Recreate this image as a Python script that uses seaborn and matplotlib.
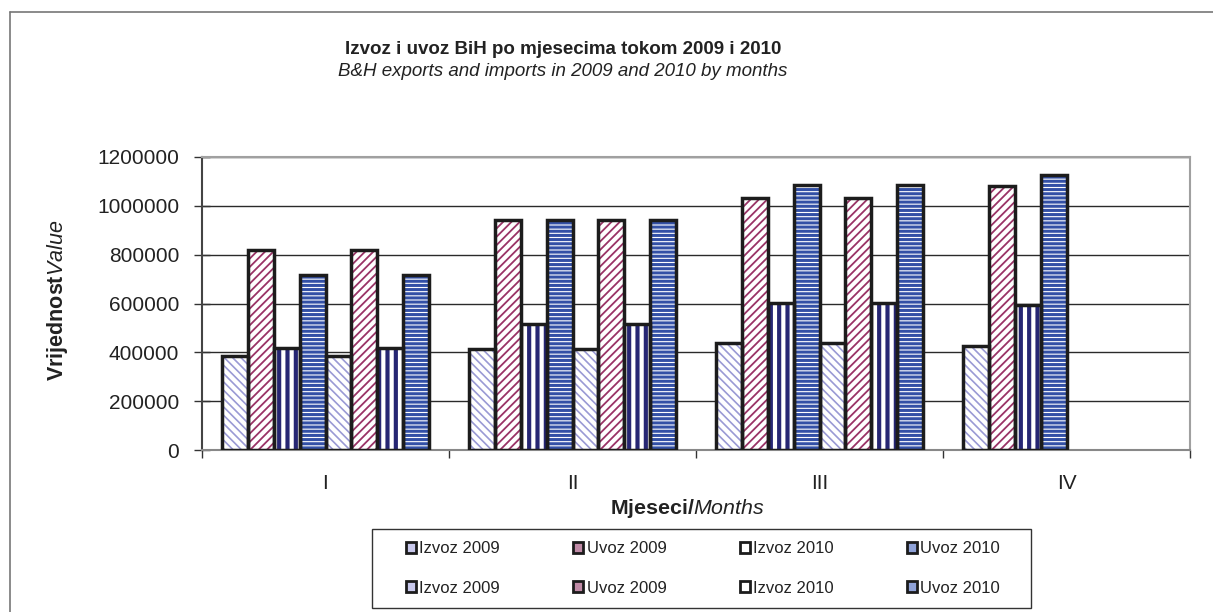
import matplotlib
matplotlib.use("Agg")
import matplotlib.pyplot as plt
import matplotlib.lines as mlines
from matplotlib.patches import Patch, Rectangle
import seaborn as sns
import pandas as pd
import numpy as np

# ---------------- data ----------------
months = ["I", "II", "III", "IV"]
izvoz_2009 = [385000, 415000, 439000, 425000]
uvoz_2009 = [820000, 942000, 1031000, 1082000]
izvoz_2010 = [418000, 515000, 603000, 593000]
uvoz_2010 = [718000, 943000, 1086000, 1128000]
# repeated series (no value for IV)
izvoz_2009_b = [385000, 415000, 439000]
uvoz_2009_b = [820000, 942000, 1031000]
izvoz_2010_b = [418000, 515000, 603000]
uvoz_2010_b = [718000, 943000, 1086000]

legend_labels = ["Izvoz 2009", "Uvoz 2009", "Izvoz 2010", "Uvoz 2010",
                 "Izvoz 2009", "Uvoz 2009", "Izvoz 2010", "Uvoz 2010"]
series_keys = ["s1", "s2", "s3", "s4", "s5", "s6", "s7", "s8"]
series_vals = [izvoz_2009, uvoz_2009, izvoz_2010, uvoz_2010,
               izvoz_2009_b, uvoz_2009_b, izvoz_2010_b, uvoz_2010_b]
yticks = [0, 200000, 400000, 600000, 800000, 1000000, 1200000]

rows = []
for key, vals in zip(series_keys, series_vals):
    for m, v in zip(months, vals):
        rows.append({"month": m, "series": key, "value": v})
df = pd.DataFrame(rows)

# ---------------- style ----------------
sns.set_style("white")
plt.rcParams["font.family"] = ["Liberation Sans", "DejaVu Sans"]
plt.rcParams["mathtext.fontset"] = "custom"
plt.rcParams["mathtext.rm"] = "Liberation Sans"
plt.rcParams["mathtext.bf"] = "Liberation Sans:bold"
plt.rcParams["mathtext.it"] = "Liberation Sans:italic"

hatch_styles = {
    "Izvoz 2009": ("\\\\\\\\", "#9a9ad4", 1.2),
    "Uvoz 2009": ("////", "#993366", 1.3),
    "Izvoz 2010": ("||", "#262673", 3.0),
    "Uvoz 2010": ("----", "#3350a6", 2.2),
}
legend_fill = {
    "Izvoz 2009": "#c8c8ec",
    "Uvoz 2009": "#c08aa6",
    "Izvoz 2010": "#ffffff",
    "Uvoz 2010": "#8fa2d8",
}

fig = plt.figure(figsize=(12.13, 6.12), dpi=100)
ax = fig.add_axes([202 / 1213, 1 - 450 / 612, 988 / 1213, 293 / 612])

sns.barplot(data=df, x="month", y="value", hue="series", order=months,
            hue_order=series_keys, width=0.842, dodge=True, errorbar=None,
            legend=False, ax=ax, color="white")
n_fill = len(ax.containers)
for lab, cont in zip(legend_labels, ax.containers[:n_fill]):
    h, c, lw = hatch_styles[lab]
    for p in cont.patches:
        p.set_facecolor("white")
        p.set_edgecolor(c)
        p.set_linewidth(0)
        p.set_hatch(h)
        if hasattr(p, "set_hatch_linewidth"):
            p.set_hatch_linewidth(lw)
        p.set_zorder(2)

sns.barplot(data=df, x="month", y="value", hue="series", order=months,
            hue_order=series_keys, width=0.842, dodge=True, errorbar=None,
            legend=False, ax=ax, color="white")
for cont in ax.containers[n_fill:]:
    for p in cont.patches:
        p.set_facecolor("none")
        p.set_edgecolor("#1c1c1c")
        p.set_linewidth(2.5)
        p.set_hatch(None)
        p.set_zorder(3)

# ---------------- axes ----------------
ax.set_xlim(-0.5, 3.5)
ax.set_ylim(0, 1200000)
ax.set_yticks(yticks)
ax.set_yticklabels([str(v) for v in yticks])
ax.yaxis.grid(True, color="#2a2a2a", linewidth=1.0)
ax.set_axisbelow(True)
ax.tick_params(axis="y", direction="inout", length=11, width=1.0,
               color="#333333", labelsize=15, labelcolor="#222222", pad=11, left=True)

ax.set_xticks([-0.5, 0.5, 1.5, 2.5, 3.5])
ax.set_xticklabels([])
ax.set_xticks([0, 1, 2, 3], minor=True)
ax.set_xticklabels(months, minor=True)
ax.tick_params(axis="x", which="major", direction="out", length=6, width=1.0,
               color="#333333", bottom=True)
ax.tick_params(axis="x", which="minor", length=0, labelsize=15,
               labelcolor="#222222", pad=17)

for side in ["top", "right"]:
    ax.spines[side].set_color("#a0a0a0")
    ax.spines[side].set_linewidth(1.5)
ax.spines["left"].set_color("#444444")
ax.spines["left"].set_linewidth(1.5)
ax.spines["bottom"].set_color("#888888")
ax.spines["bottom"].set_linewidth(1.5)

ax.set_ylabel(r"$\mathbf{Vrijednost}\mathit{Value}$", fontsize=15.5, color="#222222")
ax.yaxis.set_label_coords((70 - 202) / 988, 0.51)
ax.set_xlabel(r"$\mathbf{Mjeseci/}\mathit{Months}$", fontsize=15.4, color="#222222")
ax.xaxis.set_label_coords((687 - 202) / 988, (450 - 497) / 293)

# ---------------- title ----------------
fig.text(563 / 1213, 1 - 49 / 612, "Izvoz i uvoz BiH po mjesecima tokom 2009 i 2010",
         ha="center", va="center", fontsize=13.5, fontweight="bold", color="#222222")
fig.text(563 / 1213, 1 - 72 / 612, "B&H exports and imports in 2009 and 2010 by months",
         ha="center", va="center", fontsize=13.5, fontstyle="italic", color="#222222")

# ---------------- legend ----------------
handles = [Patch(facecolor=legend_fill[l], edgecolor="#1c1c1c", linewidth=2.0)
           for l in legend_labels]
# matplotlib fills legend columns first; reorder so rows read like the reference
order = [0, 4, 1, 5, 2, 6, 3, 7]
leg = fig.legend([handles[i] for i in order], [legend_labels[i] for i in order],
                 loc="center", bbox_to_anchor=(703 / 1213, 1 - 568.5 / 612),
                 ncol=4, fontsize=12, frameon=False,
                 handlelength=0.6, handleheight=0.6,
                 handletextpad=0.2, labelspacing=1.45, borderpad=0.0,
                 borderaxespad=0, columnspacing=4.4)
for t in leg.get_texts():
    t.set_color("#222222")
fig.add_artist(Rectangle((372 / 1213, 1 - 608 / 612), 659 / 1213, 79 / 612,
                         transform=fig.transFigure, facecolor="none",
                         edgecolor="#333333", linewidth=1.0))

# ---------------- outer border ----------------
fig.add_artist(mlines.Line2D([10 / 1213, 1.0], [1 - 12 / 612, 1 - 12 / 612],
                             transform=fig.transFigure, color="#777777", linewidth=1.2))
fig.add_artist(mlines.Line2D([10 / 1213, 10 / 1213], [0, 1 - 12 / 612],
                             transform=fig.transFigure, color="#777777", linewidth=1.2))

fig.savefig("out.png", dpi=100)
